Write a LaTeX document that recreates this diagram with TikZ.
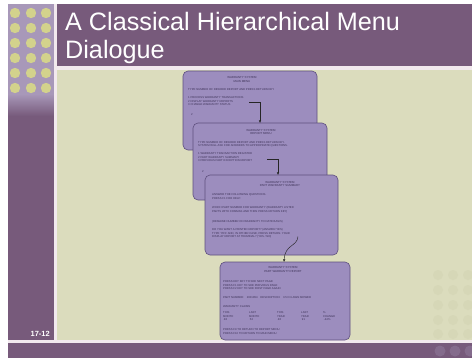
\documentclass[tikz,border=0pt]{standalone}
\usepackage{fontspec}
\setmainfont{Liberation Sans}
\usetikzlibrary{arrows.meta}

\definecolor{slidepurple}{HTML}{775A7B}
\definecolor{dotpanel}{HTML}{A898B9}
\definecolor{dotyellow}{HTML}{D3D28C}
\definecolor{beige}{HTML}{DBDCBD}
\definecolor{beigedot}{HTML}{D6D7B7}
\definecolor{barline}{HTML}{F2E9EE}
\definecolor{barlight}{HTML}{846B8C}
\definecolor{screenfill}{HTML}{9C8DBE}
\definecolor{screenedge}{HTML}{5E4F7E}
\definecolor{screentext}{HTML}{3E3358}

\tikzset{
  screen/.style={draw=screenedge, line width=0.6bp, fill=screenfill, rounded corners=5bp},
  scrtitle/.style={font=\fontsize{2.9}{3.5}\selectfont, text=screentext, align=center, inner sep=0pt},
  scrtext/.style={font=\fontsize{2.8}{3.4}\selectfont, text=screentext, align=left, anchor=north west, inner sep=0pt},
  flow/.style={draw=black!85, line width=0.45bp, -{Latex[length=2.6bp,width=2.4bp]}},
}

\begin{document}
\begin{tikzpicture}[x=1bp,y=-1bp]
\useasboundingbox (0,0) rectangle (472,358);
\fill[white] (0,0) rectangle (472,358);

% slide frame
\fill[slidepurple] (8,4) rectangle (54,340);
\fill[dotpanel] (8,4) rectangle (54,94);
\shade[top color=dotpanel, bottom color=slidepurple] (8,94) rectangle (54,116);
\foreach \cx in {15,31,46}
  \foreach \cy in {13,28,43,58,73,88}
    \fill[dotyellow] (\cx,\cy) circle (5.2bp);
\fill[barline] (54,4) rectangle (57,340);
\fill[slidepurple] (57,4) rectangle (472,66);
\fill[barline] (57,66) rectangle (472,70);
\fill[beige] (57,70) rectangle (472,340);
\foreach \cx in {438,453,468}
  \foreach \cy in {275,290,305,320,334}
    \fill[beigedot] (\cx,\cy) circle (5bp);
\fill[barline] (8,340) rectangle (472,343);
\fill[slidepurple] (8,343) rectangle (472,358);
\foreach \cx in {440,455,470}
  \fill[barlight] (\cx,351) circle (5.5bp);

% slide title and number
\node[anchor=base west, inner sep=0pt, text=white, font=\fontsize{25.3}{30}\selectfont] (title1) at (65,30) {A Classical Hierarchical Menu};
\node[anchor=base west, inner sep=0pt, text=white, font=\fontsize{25.3}{30}\selectfont] (title2) at (65,58) {Dialogue};
\node[anchor=base east, inner sep=0pt, text=white, font=\fontsize{7.5}{9}\selectfont\bfseries] (pageno) at (50,336) {17-12};

% screen 1: main menu
\path[screen] (183,71) rectangle (317,150);
\node[scrtitle] (t1) at (242,79.5) {WARRANTY SYSTEM\\MAIN MENU};
\node[scrtext] (p1) at (188,88.5) {TYPE NUMBER OF DESIRED REPORT AND PRESS RETURN KEY};
\node[scrtext] (l1) at (188,96.5) {1 PROCESS WARRANTY TRANSACTIONS\\2 DISPLAY WARRANTY REPORTS\\3 CHANGE WARRANTY STATUS};
\node[scrtext] (a1) at (191,113) {2};

% screen 2: report menu
\path[screen] (193,123) rectangle (327,200);
\node[scrtitle] (t2) at (261,132) {WARRANTY SYSTEM\\REPORT MENU};
\node[scrtext] (p2) at (198,141) {TYPE NUMBER OF DESIRED REPORT AND PRESS RETURN KEY.\\SYSTEM WILL ASK FOR ANSWERS TO APPROPRIATE QUESTIONS.};
\node[scrtext] (l2) at (198,152.5) {1 WARRANTY TRANSACTION REGISTER\\2 PART WARRANTY SUMMARY\\3 PREVIOUS PART EXCEPTION REPORT};
\node[scrtext] (a2) at (202,170) {2};

% screen 3: part warranty summary
\path[screen] (205,175) rectangle (338,255);
\node[scrtitle] (t3) at (280,184) {WARRANTY SYSTEM\\PART WARRANTY SUMMARY};
\node[scrtext] (p3) at (212,193.5) {ANSWER THE FOLLOWING QUESTIONS.\\PRESS F1 FOR HELP.};
\node[scrtext] (q3) at (212,206.5) {WHICH PART NUMBER FOR WARRANTY (WARRANTY LISTED\\PARTS WITH COMMAS AND THEN PRESS RETURN KEY)};
\node[scrtext] (r3) at (212,220.5) {(REMAINE NUMBER ON WARRANTY TO DATE BASIS)};
\node[scrtext] (d3) at (212,228.5) {DO YOU WANT A PRINTED REPORT? (ANSWER YES)\\TYPE 'YES' AND, IN OTHER CASE, PRESS RETURN. YOUR\\DISPLAY REPORT AT TERMINAL? (YES / NO)};

% screen 4: part warranty report
\path[screen] (220,262) rectangle (350,340);
\node[scrtitle] (t4) at (283,269.5) {WARRANTY SYSTEM\\PART WARRANTY REPORT};
\node[scrtext] (p4) at (223,280.5) {PRESS KEY KEY TO SEE NEXT PAGE\\PRESS F1 KEY TO SEE PREVIOUS PAGE\\PRESS F2 KEY TO SEE FIRST PAGE AGAIN};
\node[scrtext] (n4) at (223,296.5) {PART NUMBER:\quad 2001854\quad DESCRIPTION:\quad 3.5 IN LAWN MOWER};
\node[scrtext] (w4) at (223,305.5) {WARRANTY CLAIMS};
\node[scrtext] (c41) at (223,311.5) {THIS\\MONTH\\\ 48};
\node[scrtext] (c42) at (249,311.5) {LAST\\MONTH\\\ 52};
\node[scrtext] (c43) at (277,311.5) {THIS\\YEAR\\\ 48};
\node[scrtext] (c44) at (301,311.5) {LAST\\YEAR\\\ 91};
\node[scrtext] (c45) at (323,311.5) {\%\\CHANGE\\\ -44\%};
\node[scrtext] (f4) at (223,328.5) {PRESS F9 TO RETURN TO REPORT MENU\\PRESS F10 TO RETURN TO MAIN MENU};

% selection connectors
\coordinate (s1) at (249,101.8);
\coordinate (e1) at (260,123);
\draw[flow] (s1) -| (e1);
\coordinate (s2) at (267,158.8);
\coordinate (e2) at (278,175);
\draw[flow] (s2) -| (e2);
\coordinate (s3) at (298,236.5);
\coordinate (e3) at (284,262);
\draw[flow] (s3) .. controls (297,247) and (285,244) .. (e3);
\end{tikzpicture}
\end{document}
